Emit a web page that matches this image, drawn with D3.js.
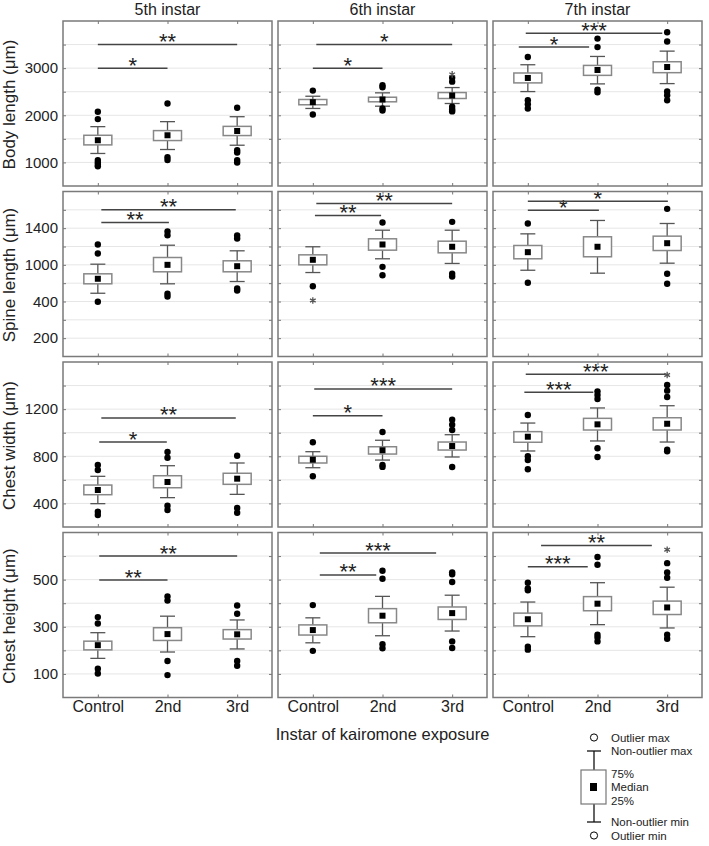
<!DOCTYPE html>
<html>
<head>
<meta charset="utf-8">
<script src="https://cdn.jsdelivr.net/npm/d3@7"></script>
<style>
  body { margin: 0; background: #fff; }
  svg { display: block; font-family: "Liberation Sans", Arial, sans-serif; }
</style>
</head>
<body>
<div id="chart"></div>
<script>
// Columns / rows / groups
const instars = ["5th instar", "6th instar", "7th instar"];
const groups = ["Control", "2nd", "3rd"];
const measures = ["Body length (μm)", "Spine length (μm)", "Chest width (μm)", "Chest height (μm)"];

// y axis per row
const yDomains = [[500, 4000], [0, 1800], [200, 1600], [0, 700]];
const gridSteps = [500, 200, 200, 100];
const tickValues = [[1000, 2000, 3000], [200, 600, 1000, 1400], [400, 800, 1200], [100, 300, 500]];
const tickLabels = [["1000", "2000", "3000"], ["200", "400", "1000", "1400"], ["400", "800", "1200"], ["100", "300", "500"]];

// box stats per instar x group: [non-outlier min, 25%, median, 75%, non-outlier max]
const bodyLength = [
  [[1190, 1372, 1470, 1576, 1759], [1274, 1464, 1576, 1675, 1865], [1365, 1570, 1667, 1765, 1970]],
  [[2145, 2223, 2278, 2335, 2404], [2193, 2286, 2335, 2383, 2476], [2250, 2356, 2419, 2482, 2588]],
  [[2503, 2687, 2792, 2897, 3072], [2666, 2847, 2961, 3058, 3248], [2672, 2904, 3024, 3136, 3361]]
];
const spineLength = [
  [[690, 793, 848, 902, 1007], [793, 924, 1000, 1080, 1214], [818, 924, 985, 1044, 1153]],
  [[916, 1000, 1055, 1109, 1197], [1066, 1160, 1222, 1284, 1378], [1015, 1131, 1197, 1258, 1378]],
  [[941, 1066, 1138, 1211, 1338], [909, 1088, 1197, 1306, 1484], [1018, 1156, 1236, 1313, 1451]]
];
const chestWidth = [
  [[398, 474, 514, 556, 630], [449, 533, 582, 635, 720], [477, 562, 610, 656, 743]],
  [[703, 743, 771, 800, 839], [768, 819, 851, 881, 936], [794, 853, 887, 921, 983]],
  [[845, 919, 966, 1009, 1082], [930, 1023, 1071, 1122, 1210], [921, 1023, 1076, 1127, 1229]]
];
const chestHeight = [
  [[166, 202, 222, 239, 275], [193, 242, 269, 296, 345], [206, 248, 268, 288, 329]],
  [[232, 265, 286, 308, 338], [262, 317, 347, 377, 429], [282, 331, 358, 384, 434]],
  [[258, 304, 332, 358, 405], [309, 368, 398, 428, 487], [295, 352, 382, 409, 468]]
];

// outliers (dots)
const bodyLengthOut = [
  [[2075, 1919, 1049, 1000, 950, 917], [2250, 1112, 1049], [2160, 1260, 1211, 1049, 1000]],
  [[2524, 2018], [2636, 2594, 2145, 2103], [2798, 2714, 2181, 2124, 2082]],
  [[3235, 2320, 2236, 2145], [3627, 3446, 2545, 2489], [3762, 3564, 2503, 2425, 2320]]
];
const spineLengthOut = [
  [[1222, 1124, 597], [1364, 1323, 684, 654], [1320, 1287, 742, 720]],
  [[767], [1462, 978, 887], [1469, 902, 873]],
  [[1451, 804], [], [1611, 902, 793]]
];
const chestWidthOut = [
  [[726, 684, 330, 302], [836, 788, 381, 344], [805, 361, 321]],
  [[919, 630], [1006, 726, 710], [1110, 1068, 1023, 709]],
  [[1150, 800, 768, 690], [1351, 1320, 1286, 868, 794], [1405, 1357, 1303, 856, 842]]
];
const chestHeightOut = [
  [[341, 314, 122, 102], [429, 411, 155, 95], [390, 355, 155, 135]],
  [[392, 198], [538, 504, 226, 209], [531, 523, 490, 238, 210]],
  [[487, 463, 455, 215, 203], [596, 563, 266, 255, 238], [570, 530, 508, 266, 249]]
];

// extremes (asterisk markers)
const bodyLengthExt = [[[], [], []], [[], [], [2868]], [[], [], []]];
const spineLengthExt = [[[], [], []], [[611], [], []], [[], [], []]];
const chestWidthExt = [[[], [], []], [[], [], []], [[], [], [1490]]];
const chestHeightExt = [[[], [], []], [[], [], []], [[], [], [627]]];

// significance bars: [from group, to group, y value, label]
const bodyLengthSig = [
  [[0, 1, 3000, "*"], [0, 2, 3500, "**"]],
  [[0, 1, 3000, "*"], [0.05, 2, 3500, "*"]],
  [[-0.13, 0.88, 3446, "*"], [-0.03, 1.93, 3740, "***"]]
];
const spineLengthSig = [
  [[0.05, 1.02, 1462, "**"], [0.05, 1.98, 1600, "**"]],
  [[0.03, 0.98, 1538, "**"], [0.05, 2, 1669, "**"]],
  [[0, 1.02, 1596, "*"], [0, 2.01, 1694, "*"]]
];
const chestWidthSig = [
  [[0.02, 0.99, 921, "*"], [0.05, 1.98, 1125, "**"]],
  [[0, 1, 1145, "*"], [0.02, 2, 1371, "***"]],
  [[-0.05, 0.94, 1343, "***"], [-0.03, 1.98, 1496, "***"]]
];
const chestHeightSig = [
  [[0.02, 1, 498, "**"], [0.02, 2, 600, "**"]],
  [[0.1, 0.91, 520, "**"], [0.1, 1.77, 613, "***"]],
  [[0, 0.86, 555, "***"], [0.19, 1.78, 645, "**"]]
];

const legendLabels = ["Outlier max", "Non-outlier max", "75%", "Median", "25%", "Non-outlier min", "Outlier min"];

const boxes = [bodyLength, spineLength, chestWidth, chestHeight];
const outs = [bodyLengthOut, spineLengthOut, chestWidthOut, chestHeightOut];
const exts = [bodyLengthExt, spineLengthExt, chestWidthExt, chestHeightExt];
const sigs = [bodyLengthSig, spineLengthSig, chestWidthSig, chestHeightSig];

const width = 709, height = 846;
const marginLeft = 63, marginTop = 21;
const panelW = 209, panelH = 165, colGap = 6, rowGap = 5.5;
const boxW = 28, capW = 15, medSize = 6, dotR = 3.2;

const svg = d3.select("#chart").append("svg")
  .attr("width", width)
  .attr("height", height);

const x = d3.scaleLinear().domain([-0.5, 2.5]).range([0, panelW]);

// column titles
svg.append("g").selectAll("text")
  .data(instars)
  .join("text")
  .attr("x", (d, i) => marginLeft + i * (panelW + colGap) + panelW / 2)
  .attr("y", 15)
  .attr("text-anchor", "middle")
  .style("font-size", "16px")
  .style("fill", "#222")
  .text(d => d);

measures.forEach((m, r) => {
  const y = d3.scaleLinear().domain(yDomains[r]).range([panelH, 0]);
  const grid = d3.range(yDomains[r][0] + gridSteps[r], yDomains[r][1], gridSteps[r]);
  const rowTop = marginTop + r * (panelH + rowGap);

  // row label
  svg.append("text")
    .attr("transform", `translate(15,${rowTop + panelH / 2 + 1}) rotate(-90)`)
    .attr("text-anchor", "middle")
    .style("font-size", "17px")
    .style("fill", "#222")
    .text(m);

  instars.forEach((inst, c) => {
    const g = svg.append("g")
      .attr("transform", `translate(${marginLeft + c * (panelW + colGap)},${rowTop})`);

    // gridlines
    g.append("g").selectAll("line")
      .data(grid)
      .join("line")
      .attr("x1", 0).attr("x2", panelW)
      .attr("y1", d => y(d)).attr("y2", d => y(d))
      .attr("stroke", "#e6e6e6")
      .attr("stroke-width", 1);

    // inward ticks on all four sides
    const tickSides = [
      [d3.axisLeft(y).tickValues(grid), 0, 0],
      [d3.axisRight(y).tickValues(grid), panelW, 0],
      [d3.axisTop(x).tickValues([0, 1, 2]), 0, 0],
      [d3.axisBottom(x).tickValues([0, 1, 2]), 0, panelH]
    ];
    tickSides.forEach(([ax, tx, ty]) => {
      const a = g.append("g")
        .attr("transform", `translate(${tx},${ty})`)
        .call(ax.tickSizeInner(-3).tickSizeOuter(0).tickFormat(""));
      a.select(".domain").remove();
      a.selectAll("line").attr("stroke", "#777");
    });

    // y tick labels on first column
    if (c === 0) {
      const ya = g.append("g")
        .call(d3.axisLeft(y).tickValues(tickValues[r]).tickSize(0).tickPadding(5)
          .tickFormat((d, i) => tickLabels[r][i]));
      ya.select(".domain").remove();
      ya.selectAll("text")
        .style("font-size", "15px")
        .style("font-family", "Liberation Sans, Arial, sans-serif")
        .attr("fill", "#222");
    }

    // category labels on last row
    if (r === measures.length - 1) {
      const xa = g.append("g")
        .attr("transform", `translate(0,${panelH})`)
        .call(d3.axisBottom(x).tickValues([0, 1, 2]).tickSize(0).tickPadding(3)
          .tickFormat(i => groups[i]));
      xa.select(".domain").remove();
      xa.selectAll("text")
        .style("font-size", "16px")
        .style("font-family", "Liberation Sans, Arial, sans-serif")
        .attr("fill", "#222");
    }

    // significance bars
    const sg = g.append("g").selectAll("g")
      .data(sigs[r][c])
      .join("g");
    sg.append("line")
      .attr("x1", d => x(d[0])).attr("x2", d => x(d[1]))
      .attr("y1", d => y(d[2])).attr("y2", d => y(d[2]))
      .attr("stroke", "#444")
      .attr("stroke-width", 1.5);
    sg.append("text")
      .attr("x", d => (x(d[0]) + x(d[1])) / 2)
      .attr("y", d => y(d[2]) + 4.5)
      .attr("text-anchor", "middle")
      .style("font-size", "22px")
      .style("fill", "#222")
      .text(d => d[3]);

    // boxes
    const stats = boxes[r][c].map((s, i) => ({ i, s }));
    const bg = g.append("g").selectAll("g")
      .data(stats)
      .join("g")
      .attr("transform", d => `translate(${x(d.i)},0)`);

    bg.append("line")
      .attr("y1", d => y(d.s[4])).attr("y2", d => y(d.s[0]))
      .attr("stroke", "#555").attr("stroke-width", 1.3);
    bg.selectAll("line.cap")
      .data(d => [d.s[0], d.s[4]])
      .join("line")
      .attr("class", "cap")
      .attr("x1", -capW / 2).attr("x2", capW / 2)
      .attr("y1", v => y(v)).attr("y2", v => y(v))
      .attr("stroke", "#555").attr("stroke-width", 1.3);
    bg.append("rect")
      .attr("x", -boxW / 2)
      .attr("y", d => y(d.s[3]))
      .attr("width", boxW)
      .attr("height", d => y(d.s[1]) - y(d.s[3]))
      .attr("fill", "#fff")
      .attr("stroke", "#888")
      .attr("stroke-width", 1.5);
    bg.append("rect")
      .attr("x", -medSize / 2)
      .attr("y", d => y(d.s[2]) - medSize / 2)
      .attr("width", medSize)
      .attr("height", medSize)
      .attr("fill", "#000");

    // outliers
    g.append("g").selectAll("circle")
      .data(outs[r][c].flatMap((vals, i) => vals.map(v => ({ i, v }))))
      .join("circle")
      .attr("cx", d => x(d.i))
      .attr("cy", d => y(d.v))
      .attr("r", dotR)
      .attr("fill", "#000");

    // extremes
    g.append("g").selectAll("path")
      .data(exts[r][c].flatMap((vals, i) => vals.map(v => ({ i, v }))))
      .join("path")
      .attr("transform", d => `translate(${x(d.i)},${y(d.v)})`)
      .attr("d", d3.symbol(d3.symbolAsterisk, 30))
      .attr("fill", "none")
      .attr("stroke", "#555")
      .attr("stroke-width", 1.3);

    // panel frame
    g.append("rect")
      .attr("width", panelW)
      .attr("height", panelH)
      .attr("fill", "none")
      .attr("stroke", "#7a7a7a")
      .attr("stroke-width", 1.5);
  });
});

// x axis title
svg.append("text")
  .attr("x", marginLeft + (3 * panelW + 2 * colGap) / 2)
  .attr("y", 740)
  .attr("text-anchor", "middle")
  .style("font-size", "16.5px")
  .style("fill", "#222")
  .text("Instar of kairomone exposure");

// legend
const lg = svg.append("g").attr("transform", "translate(594,0)");
lg.selectAll("circle")
  .data([737.5, 835.5])
  .join("circle")
  .attr("cy", d => d)
  .attr("r", 3.6)
  .attr("fill", "none")
  .attr("stroke", "#000")
  .attr("stroke-width", 1);
lg.append("line").attr("y1", 751).attr("y2", 822).attr("stroke", "#111").attr("stroke-width", 1.3);
lg.selectAll("line.cap")
  .data([751, 822])
  .join("line")
  .attr("class", "cap")
  .attr("x1", -7).attr("x2", 7)
  .attr("y1", d => d).attr("y2", d => d)
  .attr("stroke", "#111").attr("stroke-width", 1.3);
lg.append("rect")
  .attr("x", -13).attr("y", 770).attr("width", 25).attr("height", 34)
  .attr("fill", "#fff").attr("stroke", "#777").attr("stroke-width", 1.2);
lg.append("rect")
  .attr("x", -4).attr("y", 783).attr("width", 7).attr("height", 8)
  .attr("fill", "#000");
lg.selectAll("text")
  .data(legendLabels.map((t, i) => ({ t, y: [738, 751, 773.5, 787, 800.5, 822, 836][i] })))
  .join("text")
  .attr("x", 17)
  .attr("y", d => d.y + 4.2)
  .style("font-size", "11.5px")
  .style("fill", "#222")
  .text(d => d.t);
</script>
</body>
</html>
